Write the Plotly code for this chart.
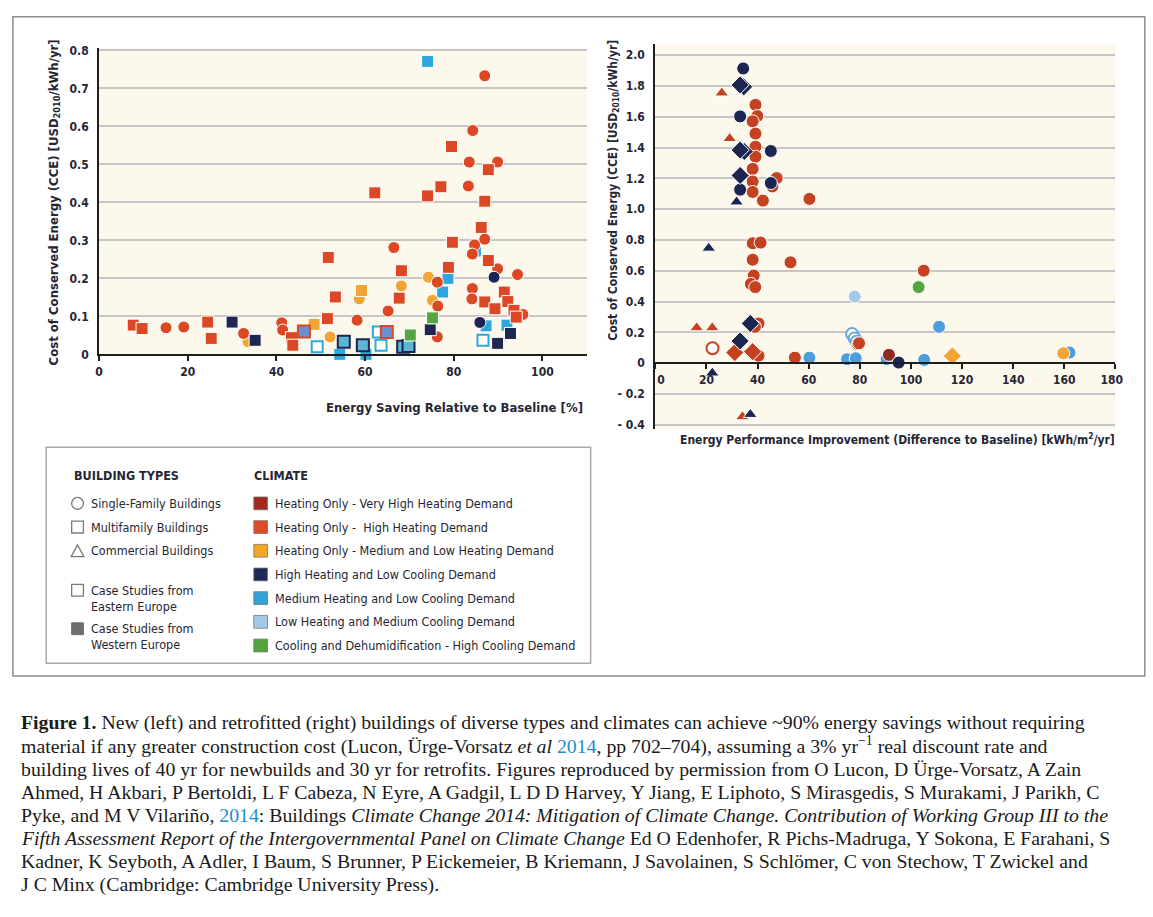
import plotly.graph_objects as go

W, H = 1153, 917

def fx(x):
    return x / W

def fy(y):
    return 1 - y / H

# ---------------- DATA: left chart (new buildings) ----------------
L_HIGH_SQ_X = [7.7, 9.7, 24.5, 25.3, 43.4, 43.7, 51.5, 51.7, 53.3, 62.2, 67.7, 68.2, 74.1, 77.1, 79.5, 78.8, 79.7,
               86.2, 87.0, 87.8, 87.8, 87.0, 89.3, 91.4, 92.2, 93.6, 94.1]
L_HIGH_SQ_Y = [0.077, 0.068, 0.085, 0.042, 0.044, 0.024, 0.094, 0.255, 0.151, 0.425, 0.148, 0.220, 0.417, 0.441,
               0.547, 0.229, 0.295, 0.334, 0.403, 0.486, 0.247, 0.138, 0.120, 0.164, 0.139, 0.116, 0.098]
L_HIGH_CI_X = [15.1, 19.1, 32.6, 41.2, 41.4, 58.2, 65.2, 66.5, 76.3, 76.4, 76.3, 83.3, 83.5, 84.3, 87.0, 89.9,
               84.7, 84.2, 87.0, 84.2, 84.1, 89.9, 94.4, 95.6]
L_HIGH_CI_Y = [0.070, 0.072, 0.055, 0.083, 0.064, 0.090, 0.114, 0.281, 0.190, 0.127, 0.046, 0.443, 0.506, 0.589,
               0.733, 0.506, 0.288, 0.264, 0.303, 0.173, 0.146, 0.225, 0.210, 0.105]
L_MED_CI_X = [33.6, 52.1, 58.7, 68.2, 74.3, 75.2]
L_MED_CI_Y = [0.033, 0.046, 0.146, 0.180, 0.203, 0.142]
L_MED_SQ_X = [48.5, 59.2]
L_MED_SQ_Y = [0.079, 0.168]
L_NAVY_SQ_X = [30.0, 35.2, 74.7, 89.9, 92.8]
L_NAVY_SQ_Y = [0.085, 0.037, 0.065, 0.029, 0.055]
L_NAVY_CI_X = [89.1, 85.9]
L_NAVY_CI_Y = [0.203, 0.084]
L_CYAN_SQ_X = [74.1, 78.7, 77.5, 54.3, 60.2, 87.3, 92.0, 84.9]
L_CYAN_SQ_Y = [0.771, 0.200, 0.164, 0.0, 0.0, 0.075, 0.077, 0.272]
L_CYAN_OPEN_X = [49.2, 63.0, 63.6, 86.6]
L_CYAN_OPEN_Y = [0.020, 0.059, 0.024, 0.037]
L_NAVY_EDGE_X = [55.2, 59.5, 68.6, 69.8]
L_NAVY_EDGE_Y = [0.033, 0.024, 0.020, 0.022]
L_RED_EDGE_X = [46.2, 64.9]
L_RED_EDGE_Y = [0.060, 0.059]
L_LIGHT_CI_X = [68.2]
L_LIGHT_CI_Y = [0.016]
L_GREEN_SQ_X = [75.2, 70.2]
L_GREEN_SQ_Y = [0.096, 0.051]

# ---------------- DATA: right chart (retrofits) ----------------
R_NAVY_CI_X = [34.4, 33.2, 45.2, 33.2, 45.2, 95.2]
R_NAVY_CI_Y = [1.914, 1.603, 1.378, 1.127, 1.170, 0.004]
R_NAVY_DI_X = [34.6, 33.2, 34.8, 33.2, 33.2, 37.2, 33.2]
R_NAVY_DI_Y = [1.795, 1.807, 1.375, 1.384, 1.219, 0.258, 0.144]
R_NAVY_TR_X = [31.8, 20.9, 22.3, 37.2]
R_NAVY_TR_Y = [1.047, 0.747, -0.064, -0.333]
R_RED_TR_X = [26.0, 29.1, 16.2, 22.3, 34.1]
R_RED_TR_Y = [1.755, 1.459, 0.230, 0.230, -0.348]
R_RED_CI_X = [39.2, 39.9, 38.1, 39.2, 39.2, 39.2, 38.1, 38.1, 38.1, 42.1, 47.5, 45.8, 60.3, 38.1, 41.2, 38.1,
              52.9, 38.5, 37.4, 39.1, 105.0, 40.4, 39.0, 40.4, 54.6, 79.7]
R_RED_CI_Y = [1.678, 1.605, 1.571, 1.491, 1.406, 1.341, 1.262, 1.180, 1.112, 1.056, 1.202, 1.148, 1.067, 0.779,
              0.783, 0.672, 0.655, 0.569, 0.515, 0.494, 0.601, 0.258, 0.236, 0.049, 0.036, 0.129]
R_RED_OPEN_X = [22.4]
R_RED_OPEN_Y = [0.097]
R_RED_DI_X = [31.1, 38.1]
R_RED_DI_Y = [0.069, 0.075]
R_DARKRED_CI_X = [91.4, 79.3]
R_DARKRED_CI_Y = [0.054, 0.124]
R_BLUE_CI_X = [60.3, 75.0, 78.4, 90.5, 105.2, 111.0, 162.0]
R_BLUE_CI_Y = [0.036, 0.026, 0.032, 0.026, 0.021, 0.236, 0.069]
R_PALE_CI_X = [78.0]
R_PALE_CI_Y = [0.433]
R_BLUE_OPEN_X = [77.0, 78.0, 78.8]
R_BLUE_OPEN_Y = [0.189, 0.161, 0.139]
R_GREEN_CI_X = [103.0]
R_GREEN_CI_Y = [0.494]
R_MED_DI_X = [116.2]
R_MED_DI_Y = [0.047]
R_MED_CI_X = [159.6]
R_MED_CI_Y = [0.064]

# ticks
L_XTICKS = [0, 20, 40, 60, 80, 100]
L_YTICKS = [0, 0.1, 0.2, 0.3, 0.4, 0.5, 0.6, 0.7, 0.8]
L_YTICKTEXT = ["0", "0.1", "0.2", "0.3", "0.4", "0.5", "0.6", "0.7", "0.8"]
R_XTICKS = [0, 20, 40, 60, 80, 100, 120, 140, 160, 180]
R_XTICKTEXT = ["\u00a0\u00a0\u00a00", "20", "40", "60", "80", "100", "120", "140", "160", "180\u00a0\u00a0"]
R_YTICKS = [-0.4, -0.2, 0, 0.2, 0.4, 0.6, 0.8, 1.0, 1.2, 1.4, 1.6, 1.8, 2.0]
R_YTICKTEXT = ["- 0.4", "- 0.2", "0", "0.2", "0.4", "0.6", "0.8", "1.0", "1.2", "1.4", "1.6", "1.8", "2.0"]

CLIMATE_LABELS = ["Heating Only - Very High Heating Demand", "Heating Only -  High Heating Demand",
                  "Heating Only - Medium and Low Heating Demand", "High Heating and Low Cooling Demand",
                  "Medium Heating and Low Cooling Demand", "Low Heating and Medium Cooling Demand",
                  "Cooling and Dehumidification - High Cooling Demand"]
CLIMATE_COLORS = ["#a3281f", "#df4a27", "#f3a623", "#1d2a52", "#30a3d6", "#a4c9e6", "#52a43a"]
BUILDING_LABELS = ["Single-Family Buildings", "Multifamily Buildings", "Commercial Buildings",
                   "Case Studies from<br>Eastern Europe", "Case Studies from<br>Western Europe"]

# colours
RED = "#dc4824"
RRED = "#c4421f"
DRED = "#8f2a1e"
AMBER = "#f2a534"
NAVY = "#1c2651"
CYAN = "#2ea7dc"
MBLUE = "#4f9edb"
PALE = "#a3c8ea"
GREEN = "#55a540"
EDGEBLUE = "#6b8fd6"

FONT = "Liberation Sans Narrow, DejaVu Sans Condensed, Arial Narrow, Roboto, sans-serif"
TXT = "#262633"

fig = go.Figure()


def add(xs, ys, sym, color, size, ax, lc="white", lw=1):
    xa, ya = ("x", "y") if ax == "L" else ("x2", "y2")
    fig.add_trace(go.Scatter(x=xs, y=ys, mode="markers", xaxis=xa, yaxis=ya, cliponaxis=False,
                             hoverinfo="x+y", showlegend=False,
                             marker=dict(symbol=sym, color=color, size=size, line=dict(color=lc, width=lw))))


# left chart
LS = 12
add(L_CYAN_SQ_X, L_CYAN_SQ_Y, "square", CYAN, LS, "L")
add(L_CYAN_OPEN_X, L_CYAN_OPEN_Y, "square", "white", LS - 1, "L", CYAN, 2)
add(L_LIGHT_CI_X, L_LIGHT_CI_Y, "circle", PALE, LS, "L")
add(L_NAVY_EDGE_X, L_NAVY_EDGE_Y, "square", "#5db6d6", LS, "L", NAVY, 2)
add(L_MED_CI_X, L_MED_CI_Y, "circle", AMBER, LS, "L")
add(L_MED_SQ_X, L_MED_SQ_Y, "square", AMBER, LS, "L")
add(L_HIGH_CI_X, L_HIGH_CI_Y, "circle", RED, LS, "L")
add(L_HIGH_SQ_X, L_HIGH_SQ_Y, "square", RED, LS, "L")
add(L_RED_EDGE_X, L_RED_EDGE_Y, "square", EDGEBLUE, LS, "L", RED, 2)
add(L_NAVY_SQ_X, L_NAVY_SQ_Y, "square", NAVY, LS, "L")
add(L_NAVY_CI_X, L_NAVY_CI_Y, "circle", NAVY, LS, "L")
add(L_GREEN_SQ_X, L_GREEN_SQ_Y, "square", GREEN, LS, "L")

# right chart
RS = 13
add(R_BLUE_CI_X, R_BLUE_CI_Y, "circle", MBLUE, RS, "R")
add(R_PALE_CI_X, R_PALE_CI_Y, "circle", PALE, RS, "R")
add(R_BLUE_OPEN_X, R_BLUE_OPEN_Y, "circle", "white", RS - 1, "R", "#6aa8dc", 2)
add(R_DARKRED_CI_X, R_DARKRED_CI_Y, "circle", DRED, RS, "R")
add(R_GREEN_CI_X, R_GREEN_CI_Y, "circle", GREEN, RS, "R")
add(R_MED_CI_X, R_MED_CI_Y, "circle", AMBER, RS, "R")
add(R_MED_DI_X, R_MED_DI_Y, "diamond", AMBER, RS + 1, "R")
add(R_RED_CI_X, R_RED_CI_Y, "circle", RRED, RS, "R")
add(R_RED_OPEN_X, R_RED_OPEN_Y, "circle", "white", RS - 1, "R", RRED, 2)
add(R_RED_DI_X, R_RED_DI_Y, "diamond", RRED, RS + 1, "R")
add(R_RED_TR_X, R_RED_TR_Y, "triangle-up", RRED, RS - 1, "R")
add(R_NAVY_CI_X, R_NAVY_CI_Y, "circle", NAVY, RS, "R")
add(R_NAVY_DI_X, R_NAVY_DI_Y, "diamond", NAVY, RS + 1, "R")
add(R_NAVY_TR_X, R_NAVY_TR_Y, "triangle-up", NAVY, RS - 1, "R")

tickfont = dict(family=FONT, size=12, color=TXT, weight="bold")

fig.update_layout(
    width=W, height=H, margin=dict(l=0, r=0, t=0, b=0),
    paper_bgcolor="white", plot_bgcolor="#fdf8ec",
    font=dict(family=FONT, color=TXT),
    xaxis=dict(domain=[fx(92), fx(590)], range=[0, 110], anchor="y", showgrid=False, zeroline=False,
               showline=True, linecolor="#1e1e1e", linewidth=2, ticks="outside", ticklen=5, tickwidth=1.5,
               tickcolor="#1e1e1e", tickvals=L_XTICKS, ticktext=[str(v) for v in L_XTICKS], tickfont=tickfont),
    yaxis=dict(domain=[fy(354), fy(44)], range=[0, 0.805], anchor="x", showgrid=True, gridcolor="#c6c6c6",
               gridwidth=1.5, zeroline=False, showline=True, linecolor="#1e1e1e", linewidth=2, ticks="",
               tickvals=L_YTICKS, ticktext=L_YTICKTEXT, tickfont=tickfont, ticklabelstandoff=6),
    xaxis2=dict(domain=[fx(660), fx(1130)], range=[0, 180], anchor="free", position=fy(363), showgrid=False,
                zeroline=False, showline=True, linecolor="#1e1e1e", linewidth=2, ticks="outside", ticklen=5,
                tickwidth=1.5, tickcolor="#1e1e1e", tickvals=R_XTICKS, ticktext=R_XTICKTEXT,
                tickfont=tickfont),
    yaxis2=dict(domain=[fy(430), fy(40)], range=[-0.43, 2.07], anchor="x2", showgrid=True, gridcolor="#c6c6c6",
                gridwidth=1.5, zeroline=False, showline=True, linecolor="#1e1e1e", linewidth=2, ticks="",
                tickvals=R_YTICKS, ticktext=R_YTICKTEXT, tickfont=tickfont, ticklabelstandoff=6),
)

shapes = []
ann = []

# outer frame
shapes.append(dict(type="rect", xref="paper", yref="paper", x0=fx(4), x1=fx(1160), y0=fy(680), y1=fy(12),
                   line=dict(color="#8c8c8c", width=1.5), fillcolor="rgba(0,0,0,0)", layer="below"))

# axis titles
ytitle = "Cost of Conserved Energy (CCE) [USD<sub>2010</sub>/kWh/yr]"
ann.append(dict(xref="paper", yref="paper", x=fx(46), y=fy(200), text="<b>" + ytitle + "</b>", textangle=-90,
                showarrow=False, font=dict(family=FONT, size=13, color=TXT), xanchor="center", yanchor="middle"))
ann.append(dict(xref="paper", yref="paper", x=fx(617), y=fy(188), text="<b>" + ytitle + "</b>", textangle=-90,
                showarrow=False, font=dict(family=FONT, size=12, color=TXT), xanchor="center", yanchor="middle"))
ann.append(dict(xref="paper", yref="paper", x=fx(588), y=fy(408), text="<b>Energy Saving Relative to Baseline [%]</b>",
                showarrow=False, font=dict(family=FONT, size=13, color=TXT), xanchor="right", yanchor="middle"))
ann.append(dict(xref="paper", yref="paper", x=fx(1132), y=fy(440),
                text="<b>Energy Performance Improvement (Difference to Baseline) [kWh/m<sup>2</sup>/yr]</b>",
                showarrow=False, font=dict(family=FONT, size=12, color=TXT), xanchor="right", yanchor="middle"))

# legend box
shapes.append(dict(type="rect", xref="paper", yref="paper", x0=fx(38), x1=fx(594), y0=fy(667), y1=fy(448),
                   line=dict(color="#a8a8a8", width=1.5), fillcolor="white"))
LEGF = dict(family=FONT, size=12.5, color=TXT)
ann.append(dict(xref="paper", yref="paper", x=fx(64), y=fy(477), text="<b>BUILDING TYPES</b>", showarrow=False,
                font=LEGF, xanchor="left", yanchor="middle"))
ann.append(dict(xref="paper", yref="paper", x=fx(248), y=fy(477), text="<b>CLIMATE</b>", showarrow=False,
                font=LEGF, xanchor="left", yanchor="middle"))

b_ys = [505, 529, 553, 601, 640]
for lab, yy in zip(BUILDING_LABELS, b_ys):
    ann.append(dict(xref="paper", yref="paper", x=fx(82), y=fy(yy), text=lab, showarrow=False, font=LEGF,
                    xanchor="left", yanchor="middle", align="left"))
GR = "#7a7a7a"
shapes.append(dict(type="circle", xref="paper", yref="paper", x0=fx(64), x1=fx(76), y0=fy(511), y1=fy(499),
                   line=dict(color=GR, width=1.3)))
shapes.append(dict(type="rect", xref="paper", yref="paper", x0=fx(64), x1=fx(76), y0=fy(535), y1=fy(523),
                   line=dict(color=GR, width=1.3)))
shapes.append(dict(type="path", xref="paper", yref="paper",
                   path=f"M {fx(63.5)} {fy(559)} L {fx(76.5)} {fy(559)} L {fx(70)} {fy(547)} Z",
                   line=dict(color=GR, width=1.3)))
shapes.append(dict(type="rect", xref="paper", yref="paper", x0=fx(64), x1=fx(76), y0=fy(599), y1=fy(587),
                   line=dict(color=GR, width=1.3)))
shapes.append(dict(type="rect", xref="paper", yref="paper", x0=fx(64), x1=fx(76), y0=fy(638), y1=fy(626),
                   line=dict(color="#6e6e6e", width=1), fillcolor="#6e6e6e"))

c_ys = [505, 529, 553, 577, 601, 625, 649]
for lab, col, yy in zip(CLIMATE_LABELS, CLIMATE_COLORS, c_ys):
    shapes.append(dict(type="rect", xref="paper", yref="paper", x0=fx(250), x1=fx(264), y0=fy(yy + 6.5),
                       y1=fy(yy - 6.5), line=dict(color="#777777", width=0.8), fillcolor=col))
    ann.append(dict(xref="paper", yref="paper", x=fx(270), y=fy(yy), text=lab, showarrow=False, font=LEGF,
                    xanchor="left", yanchor="middle"))

# caption
CAP = [
    "<b>Figure 1.</b> New (left) and retrofitted (right) buildings of diverse types and climates can achieve ~90% energy savings without requiring",
    "material if any greater construction cost (Lucon, Ürge-Vorsatz <i>et al</i> <span style='color:#1f8dc8'>2014</span>, pp 702–704), assuming a 3% yr<sup>−1</sup> real discount rate and",
    "building lives of 40 yr for newbuilds and 30 yr for retrofits. Figures reproduced by permission from O Lucon, D Ürge-Vorsatz, A Zain",
    "Ahmed, H Akbari, P Bertoldi, L F Cabeza, N Eyre, A Gadgil, L D D Harvey, Y Jiang, E Liphoto, S Mirasgedis, S Murakami, J Parikh, C",
    "Pyke, and M V Vilariño, <span style='color:#1f8dc8'>2014</span>: Buildings <i>Climate Change 2014: Mitigation of Climate Change. Contribution of Working Group III to the</i>",
    "<i>Fifth Assessment Report of the Intergovernmental Panel on Climate Change</i> Ed O Edenhofer, R Pichs-Madruga, Y Sokona, E Farahani, S",
    "Kadner, K Seyboth, A Adler, I Baum, S Brunner, P Eickemeier, B Kriemann, J Savolainen, S Schlömer, C von Stechow, T Zwickel and",
    "J C Minx (Cambridge: Cambridge University Press).",
]
for i, line in enumerate(CAP):
    ann.append(dict(xref="paper", yref="paper", x=fx(10), y=fy(727 + i * 23.4), text=line, showarrow=False,
                    font=dict(family="Liberation Serif, Times New Roman, serif", size=19.8, color="#1a1a1a"),
                    xanchor="left", yanchor="middle", align="left"))

fig.update_layout(shapes=shapes, annotations=ann)
fig.write_html("out.html", config={"displayModeBar": False},
               post_script="document.body.style.margin='0';document.body.style.overflow='hidden';")
